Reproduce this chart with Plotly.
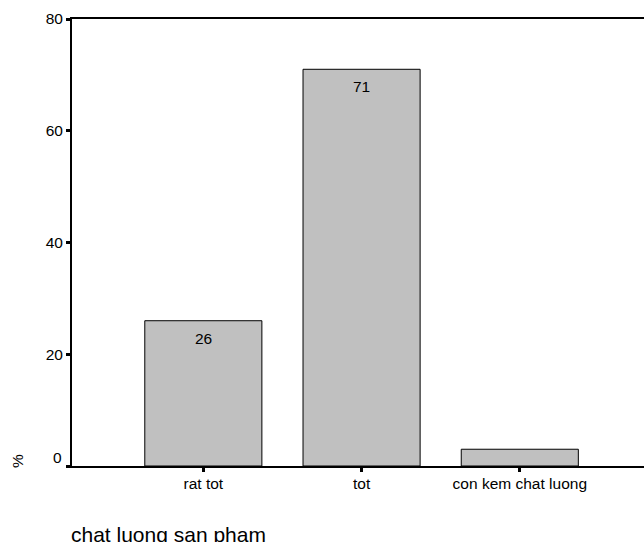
import plotly.graph_objects as go

# Product-quality ratings (percent of respondents)
categories = ["rat tot", "tot", "con kem chat luong"]
percents = [26, 71, 3]
bar_labels = ["26", "71", ""]
y_ticks = [0, 20, 40, 60, 80]
y_tick_text = ["", "20", "40", "60", "80"]

FONT = "Arial, Liberation Sans, sans-serif"

fig = go.Figure()
fig.add_trace(go.Bar(
    x=categories,
    y=percents,
    width=0.74,
    marker=dict(color="#C0C0C0", line=dict(color="black", width=1)),
    hoverinfo="skip",
))

# value labels just inside the top of each bar
for cat, val, lab in zip(categories, percents, bar_labels):
    if lab:
        fig.add_annotation(x=cat, y=val, text=lab, showarrow=False,
                           xanchor="center", yanchor="top", yshift=-7,
                           font=dict(family=FONT, size=15.5, color="black"))

# the zero label sits a little above the axis corner
fig.add_annotation(xref="paper", x=0, y=y_ticks[0], text=str(y_ticks[0]),
                   showarrow=False, xanchor="right", yanchor="middle",
                   xshift=-8, yshift=9,
                   font=dict(family=FONT, size=15.5, color="black"))

# y-axis title placed at the bottom of the axis
fig.add_annotation(xref="paper", yref="paper", x=-0.0953, y=0.0123,
                   text="%", textangle=-90, showarrow=False,
                   xanchor="center", yanchor="middle",
                   font=dict(family=FONT, size=15.5, color="black"))

# x-axis title
fig.add_annotation(xref="paper", yref="paper", x=0, y=-0.153,
                   text="chat luong san pham", showarrow=False,
                   xanchor="left", yanchor="middle", xshift=-3,
                   font=dict(family=FONT, size=21, color="black"))

fig.update_layout(
    width=644, height=542,
    margin=dict(l=72, r=0, t=19, b=76),
    paper_bgcolor="white", plot_bgcolor="white",
    showlegend=False,
    font=dict(family=FONT, size=15.5, color="black"),
)
fig.update_xaxes(
    range=[-0.83, 2.785],
    showline=True, linecolor="black", linewidth=2, mirror=True,
    ticks="outside", ticklen=4, tickwidth=3, tickcolor="black",
    ticklabelstandoff=-2,
    showgrid=False, zeroline=False,
    tickfont=dict(family=FONT, size=15.5, color="black"),
)
fig.update_yaxes(
    range=[0, 80],
    tickvals=y_ticks, ticktext=y_tick_text,
    showline=True, linecolor="black", linewidth=2,
    ticks="outside", ticklen=4, tickwidth=3, tickcolor="black",
    showgrid=False, zeroline=False,
    tickfont=dict(family=FONT, size=15.5, color="black"),
)

fig.write_html("out.html")
